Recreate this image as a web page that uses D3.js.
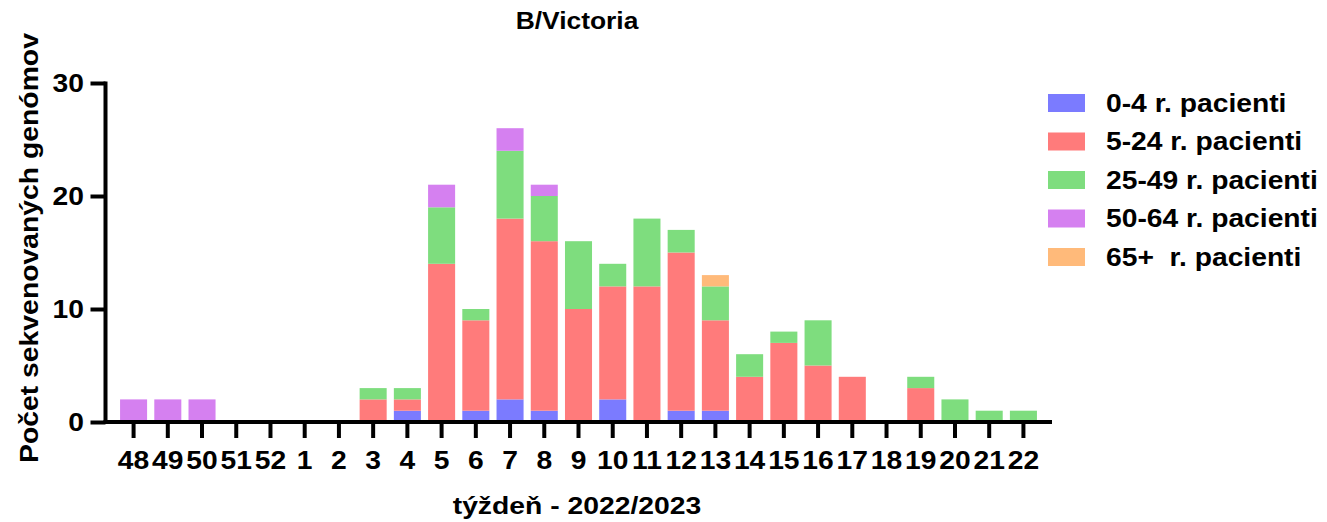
<!DOCTYPE html>
<html>
<head>
<meta charset="utf-8">
<script src="https://cdn.jsdelivr.net/npm/d3@7"></script>
<style>
  html, body { margin: 0; padding: 0; background: #fff; }
  svg { display: block; font-family: "Liberation Sans", Arial, sans-serif; font-weight: bold; }
</style>
</head>
<body>
<svg id="chart" width="1327" height="522"></svg>
<script>
// ---- Data ----
const weeks = ["48","49","50","51","52","1","2","3","4","5","6","7","8","9","10","11","12","13","14","15","16","17","18","19","20","21","22"];
const age0_4   = [0,0,0,0,0,0,0,0,1,0,1,2,1,0,2,0,1,1,0,0,0,0,0,0,0,0,0];
const age5_24  = [0,0,0,0,0,0,0,2,1,14,8,16,15,10,10,12,14,8,4,7,5,4,0,3,0,0,0];
const age25_49 = [0,0,0,0,0,0,0,1,1,5,1,6,4,6,2,6,2,3,2,1,4,0,0,1,2,1,1];
const age50_64 = [2,2,2,0,0,0,0,0,0,2,0,2,1,0,0,0,0,0,0,0,0,0,0,0,0,0,0];
const age65    = [0,0,0,0,0,0,0,0,0,0,0,0,0,0,0,0,0,1,0,0,0,0,0,0,0,0,0];
const seriesNames = ["0-4 r. pacienti","5-24 r. pacienti","25-49 r. pacienti","50-64 r. pacienti","65+  r. pacienti"];
const seriesColors = ["#7B7BFF","#FF7B7B","#7EDD7E","#D580F0","#FFBA7A"];
const yTicks = [0,10,20,30];
const title = "B/Victoria";
const xTitle = "týždeň - 2022/2023";
const yTitle = "Počet sekvenovaných genómov";

// ---- Build table ----
const keys = ["a","b","c","d","e"];
const allSeries = [age0_4, age5_24, age25_49, age50_64, age65];
const table = weeks.map((w,i) => {
  const row = {week: w};
  keys.forEach((k,j) => row[k] = allSeries[j][i]);
  return row;
});

const svg = d3.select("#chart");
const axX = 105.5, axY = 422;
const x = d3.scaleBand().domain(weeks).range([105, 1052]).paddingInner(0.21).paddingOuter(0.44);
const y = d3.scaleLinear().domain([0,30]).range([422, 83]);
const color = d3.scaleOrdinal().domain(keys).range(seriesColors);

const stacked = d3.stack().keys(keys)(table);

svg.append("g").selectAll("g").data(stacked).join("g")
  .attr("fill", d => color(d.key))
  .selectAll("rect").data(d => d).join("rect")
  .attr("x", d => x(d.data.week))
  .attr("width", x.bandwidth())
  .attr("y", d => y(d[1]))
  .attr("height", d => y(d[0]) - y(d[1]));

const SX = 1.13;

// Y axis
const yAxis = svg.append("g").attr("transform", `translate(${axX},0)`)
  .call(d3.axisLeft(y).tickValues(yTicks).tickSize(15).tickFormat(d3.format("d")));
yAxis.select(".domain").remove();
yAxis.selectAll(".tick line").attr("stroke", "#000").attr("stroke-width", 4);
yAxis.selectAll(".tick text")
  .attr("x", 0).attr("dy", null).attr("y", 0)
  .attr("dominant-baseline", "central")
  .attr("text-anchor", "end")
  .attr("font-size", 25).attr("font-weight", "bold").attr("fill", "#000")
  .attr("font-family", "Liberation Sans, Arial, sans-serif")
  .attr("transform", `translate(-21.5,0) scale(${SX},1)`);

// X axis
const xAxis = svg.append("g").attr("transform", `translate(0,${axY})`)
  .call(d3.axisBottom(x).tickSize(16).tickSizeOuter(0));
xAxis.select(".domain").remove();
xAxis.selectAll(".tick line").attr("stroke", "#000").attr("stroke-width", 4);
xAxis.selectAll(".tick text")
  .attr("y", 47).attr("dy", null).attr("x", 0)
  .attr("font-size", 25).attr("font-weight", "bold").attr("fill", "#000")
  .attr("font-family", "Liberation Sans, Arial, sans-serif")
  .attr("transform", `scale(${SX},1)`);

// Axis lines
svg.append("line").attr("x1", axX).attr("x2", axX).attr("y1", 81.5).attr("y2", axY + 2)
  .attr("stroke", "#000").attr("stroke-width", 4);
svg.append("line").attr("x1", axX - 2).attr("x2", 1052).attr("y1", axY).attr("y2", axY)
  .attr("stroke", "#000").attr("stroke-width", 4);

// Titles
svg.append("text").attr("transform", `translate(577,29) scale(1.1,1)`)
  .attr("text-anchor", "middle").attr("font-size", 24).attr("fill", "#000").text(title);
svg.append("text").attr("transform", `translate(577,514) scale(1.18,1)`)
  .attr("text-anchor", "middle").attr("font-size", 24).attr("fill", "#000").text(xTitle);
svg.append("text").attr("transform", `translate(38,248) rotate(-90) scale(1.09,1)`)
  .attr("text-anchor", "middle").attr("font-size", 26).attr("fill", "#000").text(yTitle);

// Legend
const legend = svg.append("g");
const lg = legend.selectAll("g").data(seriesNames).join("g")
  .attr("transform", (d,i) => `translate(1048,${94 + i*38.5})`);
lg.append("rect").attr("width", 37).attr("height", 18).attr("fill", (d,i) => seriesColors[i]);
lg.append("text").attr("transform", `translate(58,17.5) scale(${SX},1)`)
  .attr("font-size", 25).attr("fill", "#000").style("white-space", "pre")
  .attr("xml:space", "preserve").text(d => d);
</script>
</body>
</html>
